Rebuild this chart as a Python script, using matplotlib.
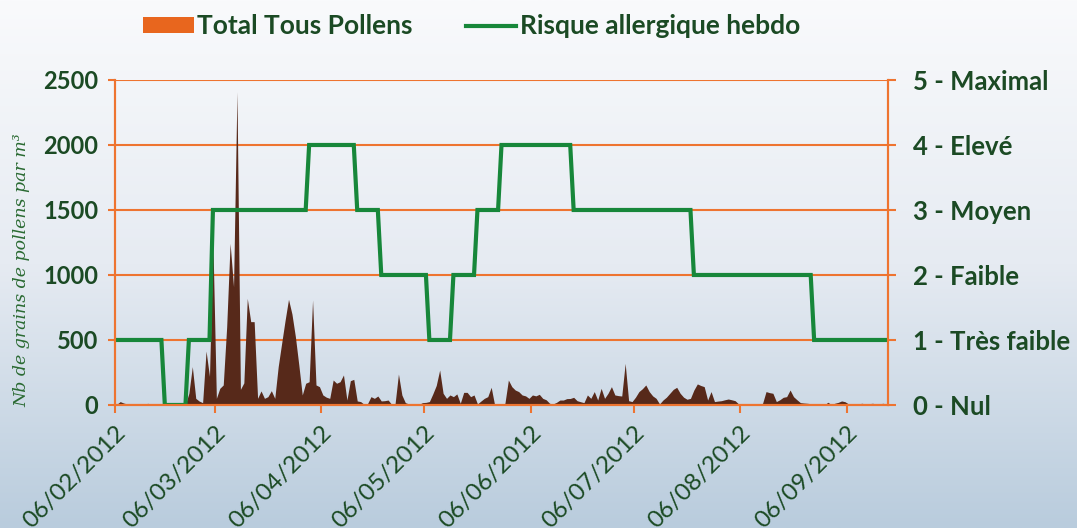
#!/usr/bin/env python3
"""
Daily total pollen count (area) with the weekly allergy risk (step line)
on a secondary axis, Feb - Sep 2012.
"""

import datetime as dt

import numpy as np
import matplotlib

matplotlib.use("Agg")
import matplotlib.pyplot as plt
import matplotlib.dates as mdates
from matplotlib.patches import Patch
from matplotlib.lines import Line2D
from matplotlib.colors import LinearSegmentedColormap


START_DATE = dt.date(2012, 2, 6)
N_DAYS = 225

# daily "Total Tous Pollens" (grains / m3)
POLLEN_DAILY = [
    5, 26, 15, 8, 3, 0, 0, 0, 3, 13,
    3, 0, 0, 0, 0, 0, 0, 0, 0, 0,
    5, 90, 295, 51, 30, 18, 415, 220, 1250, 51,
    128, 154, 600, 1243, 910, 2410, 120, 170, 820, 641,
    641, 51, 108, 51, 64, 110, 51, 295, 474, 650,
    813, 700, 526, 308, 77, 167, 179, 808, 154, 141,
    77, 60, 51, 192, 167, 179, 231, 38, 187, 197,
    31, 26, 5, 10, 64, 51, 69, 31, 33, 38,
    5, 5, 238, 77, 18, 8, 8, 5, 5, 18,
    20, 26, 85, 150, 269, 90, 51, 77, 64, 85,
    13, 97, 97, 64, 77, 8, 30, 51, 64, 136,
    0, 0, 0, 13, 192, 141, 115, 103, 77, 70,
    51, 77, 70, 82, 51, 40, 13, 8, 20, 38,
    38, 49, 50, 59, 33, 25, 18, 77, 51, 103,
    38, 128, 51, 90, 141, 77, 72, 69, 320, 33,
    26, 60, 103, 125, 154, 103, 70, 51, 8, 38,
    60, 90, 120, 136, 90, 60, 44, 51, 115, 162,
    150, 141, 38, 103, 26, 30, 33, 40, 46, 40,
    33, 8, 3, 0, 0, 3, 3, 3, 13, 103,
    95, 90, 26, 40, 59, 64, 115, 64, 40, 18,
    15, 13, 10, 8, 8, 8, 0, 21, 3, 13,
    20, 31, 25, 8, 8, 8, 10, 13, 5, 10,
    13, 8, 8, 13, 8,
]

# weekly risk level (weeks starting on Monday 06/02/2012)
RISK_WEEKLY = [
    1, 1, 0, 1, 3, 3, 3, 3, 4, 4, 3, 2, 2, 1, 2, 3, 4,
    4, 4, 3, 3, 3, 3, 3, 2, 2, 2, 2, 2, 1, 1, 1, 1,
]

POLLEN_TICKS = [0, 500, 1000, 1500, 2000, 2500]
RISK_TICKS = [0, 1, 2, 3, 4, 5]
RISK_LABELS = [
    "0 - Nul",
    "1 - Très faible",
    "2 - Faible",
    "3 - Moyen",
    "4 - Elevé",
    "5 - Maximal",
]
MONTH_TICKS = [dt.date(2012, month, 6) for month in range(2, 10)]

LEGEND_LABELS = ["Total Tous Pollens", "Risque allergique hebdo"]
Y_LABEL = "Nb de grains de pollens par m³"

ORANGE = "#ee7430"
LEGEND_ORANGE = "#e8661e"
BROWN = "#57291a"
GREEN = "#17873a"
TEXT_GREEN = "#1b4a24"
LABEL_GREEN = "#2a6a32"

FONT = "Lato"


def main():
    days = [START_DATE + dt.timedelta(days=i) for i in range(N_DAYS)]
    # Excel "between tick marks": each day sits in the middle of its slot
    x_values = mdates.date2num(days) + 0.5
    risk_daily = np.repeat(RISK_WEEKLY, 7)[:N_DAYS]

    figure = plt.figure(figsize=(10.77, 5.28), dpi=100)

    # soft vertical background gradient
    background = figure.add_axes([0, 0, 1, 1], zorder=-10)
    gradient = np.linspace(0, 1, 256).reshape(-1, 1)
    cmap = LinearSegmentedColormap.from_list(
        "bg", ["#f9fafc", "#e6ebf2", "#b9ccdd"]
    )
    background.imshow(gradient, aspect="auto", cmap=cmap, extent=[0, 1, 0, 1])
    background.axis("off")

    axis = figure.add_axes([0.1068, 0.233, 0.7177, 0.6155])
    axis.set_facecolor("none")

    axis.fill_between(x_values, 0, POLLEN_DAILY, color=BROWN, linewidth=0)

    x_start = mdates.date2num(START_DATE)
    axis.set_xlim(x_start, x_start + N_DAYS)
    axis.set_ylim(0, 2500)
    axis.set_yticks(POLLEN_TICKS)
    axis.set_yticklabels([str(v) for v in POLLEN_TICKS])
    axis.set_xticks(mdates.date2num(MONTH_TICKS))
    axis.set_xticklabels(
        [d.strftime("%d/%m/%Y") for d in MONTH_TICKS],
        rotation=45,
        ha="right",
        va="top",
        rotation_mode="anchor",
        fontsize=17.5,
        family=FONT,
        color=TEXT_GREEN,
    )

    axis.set_axisbelow(True)
    axis.grid(axis="y", color=ORANGE, linewidth=1.5)
    axis.grid(axis="x", visible=False)

    for name, spine in axis.spines.items():
        spine.set_color(ORANGE)
        spine.set_linewidth(1.5)
    axis.spines["top"].set_visible(False)

    axis.tick_params(
        axis="y",
        direction="out",
        length=5,
        width=1.5,
        color=ORANGE,
        pad=7,
        labelsize=17,
        labelcolor=TEXT_GREEN,
    )
    axis.tick_params(
        axis="x",
        direction="out",
        length=6,
        width=1.5,
        color=ORANGE,
        pad=6,
    )
    for label in axis.get_yticklabels():
        label.set_fontfamily(FONT)
        label.set_fontweight("bold")

    risk_axis = axis.twinx()
    risk_axis.plot(
        x_values,
        risk_daily,
        color=GREEN,
        linewidth=3,
        solid_joinstyle="miter",
    )
    risk_axis.set_ylim(0, 5)
    risk_axis.set_yticks(RISK_TICKS)
    risk_axis.set_yticklabels(RISK_LABELS)
    for name, spine in risk_axis.spines.items():
        spine.set_color(ORANGE)
        spine.set_linewidth(1.5)
    risk_axis.spines["top"].set_visible(False)
    risk_axis.tick_params(
        axis="y",
        direction="out",
        length=6,
        width=1.5,
        color=ORANGE,
        pad=12,
        labelsize=18.5,
        labelcolor=TEXT_GREEN,
    )
    for label in risk_axis.get_yticklabels():
        label.set_fontfamily(FONT)
        label.set_fontweight("bold")

    figure.text(
        0.02,
        1 - 270 / 528,
        Y_LABEL,
        rotation=90,
        ha="center",
        va="center",
        fontsize=12.5,
        style="italic",
        family="DejaVu Serif",
        color=LABEL_GREEN,
    )

    handles = [
        Patch(facecolor=LEGEND_ORANGE, edgecolor="none"),
        Line2D([], [], color=GREEN, linewidth=3),
    ]
    legend = figure.legend(
        handles,
        LEGEND_LABELS,
        loc="center",
        bbox_to_anchor=(0.438, 0.95),
        ncol=2,
        frameon=False,
        prop={"family": FONT, "weight": "bold", "size": 19},
        handlelength=1.9,
        handleheight=0.6,
        handletextpad=0.15,
        columnspacing=2.0,
    )
    for text in legend.get_texts():
        text.set_color(TEXT_GREEN)

    figure.savefig("out.png", dpi=100)
    plt.close(figure)


if __name__ == "__main__":
    main()
